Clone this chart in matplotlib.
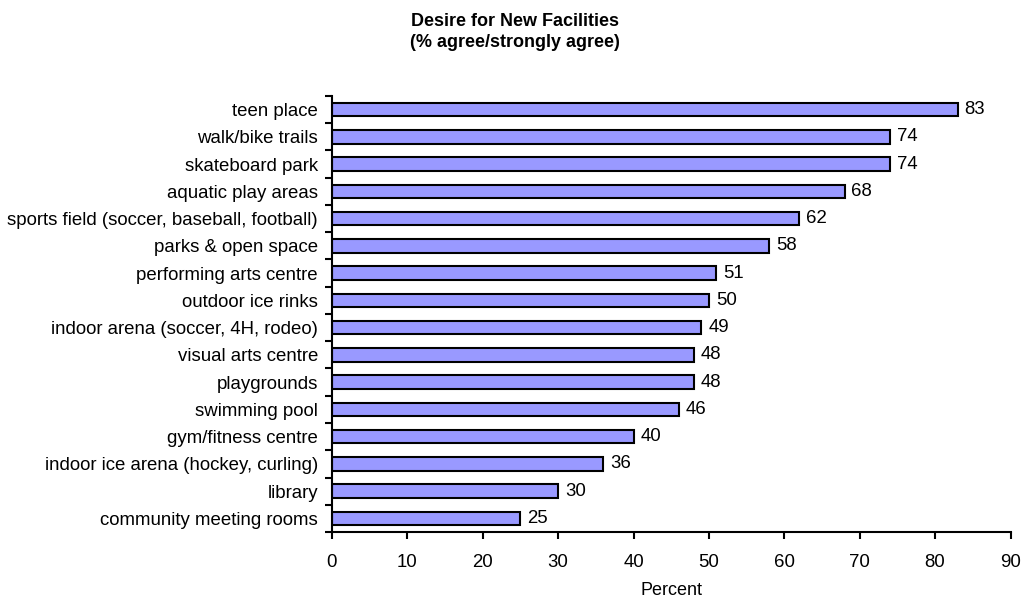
import matplotlib
matplotlib.use("Agg")
import matplotlib.pyplot as plt
import numpy as np

categories = [
    "teen place",
    "walk/bike trails",
    "skateboard park",
    "aquatic play areas",
    "sports field (soccer, baseball, football)",
    "parks & open space",
    "performing arts centre",
    "outdoor ice rinks",
    "indoor arena (soccer, 4H, rodeo)",
    "visual arts centre",
    "playgrounds",
    "swimming pool",
    "gym/fitness centre",
    "indoor ice arena (hockey, curling)",
    "library",
    "community meeting rooms",
]
values = [83, 74, 74, 68, 62, 58, 51, 50, 49, 48, 48, 46, 40, 36, 30, 25]
xticks = [0, 10, 20, 30, 40, 50, 60, 70, 80, 90]

plt.rcParams['font.family'] = ['Liberation Sans', 'DejaVu Sans']

fig = plt.figure(figsize=(10.23, 6.01), dpi=100)
ax = fig.add_axes([0.3245, 0.1148, 0.6633, 0.7255])

n = len(categories)
pos = np.arange(n)
ax.barh(pos, values, height=0.5, color="#9999FF", edgecolor="black", linewidth=1.5)

# value labels at bar ends
for p, v in zip(pos, values):
    ax.text(v + 0.9, p, str(v), va="center", ha="left", fontsize=13.4)

ax.set_ylim(n - 0.5, -0.5)
ax.set_xlim(0, 90)
ax.set_yticks(pos)
ax.set_yticklabels(categories, fontsize=13.4)
# ticks sit between the bars
ax.set_yticks(np.arange(n + 1) - 0.5, minor=True)
ax.tick_params(axis="y", which="major", length=0, pad=10)
ax.tick_params(axis="y", which="minor", length=5, width=1.5, direction="out")
ax.set_xticks(xticks)
ax.set_xticklabels([str(t) for t in xticks], fontsize=13.4)
ax.tick_params(axis="x", length=5, width=1.5, direction="out", pad=11)

for s in ["top", "right"]:
    ax.spines[s].set_visible(False)
for s in ["left", "bottom"]:
    ax.spines[s].set_linewidth(1.5)

ax.set_xlabel("Percent", fontsize=13, labelpad=8)

fig.text(0.503, 0.947, "Desire for New Facilities\n(% agree/strongly agree)",
         ha="center", va="center", fontsize=13, fontweight="bold", linespacing=1.3)

fig.savefig("out.png", dpi=100)
